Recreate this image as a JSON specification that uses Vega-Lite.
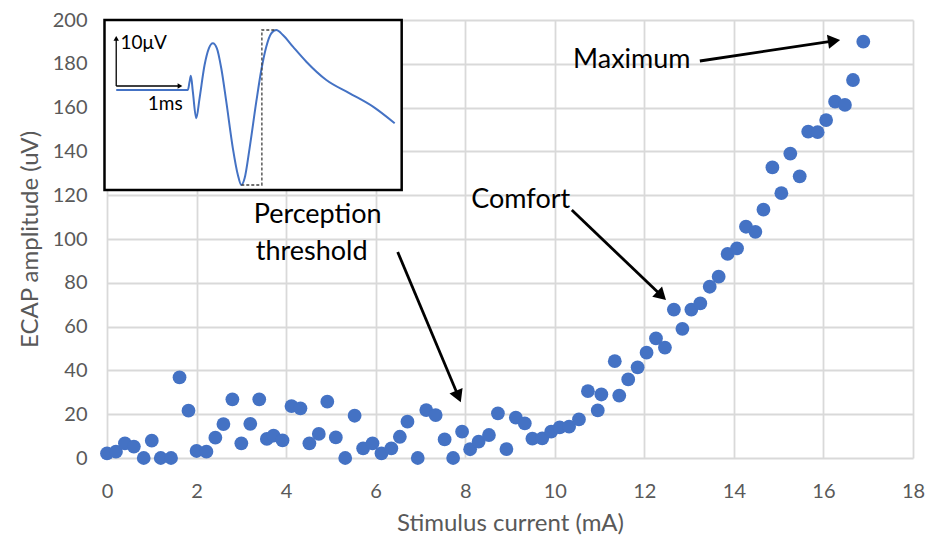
{
  "$schema": "https://vega.github.io/schema/vega-lite/v6.json",
  "width": 806,
  "height": 438,
  "autosize": "none",
  "padding": {"left": 107, "top": 20, "right": 17, "bottom": 85},
  "background": "white",
  "config": {"view": {"stroke": null}, "font": "Lato"},
  "encoding": {
    "x": {
      "field": "x", "type": "quantitative",
      "scale": {"domain": [0, 18], "nice": false, "zero": false},
      "axis": {
        "title": "Stimulus current (mA)", "values": [0, 2, 4, 6, 8, 10, 12, 14, 16, 18],
        "grid": true, "gridColor": "#d9d9d9", "gridWidth": 1.8, "domain": false, "ticks": false, "labelFlush": false,
        "labelFont": "Lato", "labelFontSize": 20, "labelColor": "#595959", "labelPadding": 23,
        "titleFont": "Lato", "titleFontSize": 24, "titleColor": "#595959", "titleFontWeight": "normal", "titlePadding": 10
      }
    },
    "y": {
      "field": "y", "type": "quantitative",
      "scale": {"domain": [0, 200], "nice": false, "zero": false},
      "axis": {
        "title": "ECAP amplitude (uV)", "values": [0, 20, 40, 60, 80, 100, 120, 140, 160, 180, 200],
        "grid": true, "gridColor": "#d9d9d9", "gridWidth": 1.8, "domain": false, "ticks": false, "labelFlush": false,
        "labelFont": "Lato", "labelFontSize": 20, "labelColor": "#595959", "labelPadding": 20,
        "titleFont": "Lato", "titleFontSize": 24, "titleColor": "#595959", "titleFontWeight": "normal", "titlePadding": 10
      }
    }
  },
  "layer": [
    {
      "data": {"values": [{"x": -0.056, "y": 200, "x2": 6.581, "y2": 122.4}]},
      "mark": {"type": "rect", "fill": "white", "stroke": "black", "strokeWidth": 2.5, "clip": false},
      "encoding": {"x2": {"field": "x2"}, "y2": {"field": "y2"}}
    },
    {
      "data": {"values": [
        {"x": 0.206, "y": 168.04}, {"x": 1.806, "y": 168.04}, {"x": 1.844, "y": 171.83}, {"x": 1.873, "y": 174.57},
        {"x": 1.917, "y": 167.26}, {"x": 1.993, "y": 155.11}, {"x": 2.067, "y": 164.25}, {"x": 2.179, "y": 179.45},
        {"x": 2.275, "y": 187.08}, {"x": 2.364, "y": 189.36}, {"x": 2.454, "y": 187.08}, {"x": 2.552, "y": 177.95},
        {"x": 2.664, "y": 162.69}, {"x": 2.811, "y": 141.42}, {"x": 2.923, "y": 129.22}, {"x": 2.999, "y": 124.66},
        {"x": 3.073, "y": 127.72}, {"x": 3.184, "y": 141.42}, {"x": 3.334, "y": 162.69}, {"x": 3.446, "y": 177.17},
        {"x": 3.557, "y": 187.81}, {"x": 3.669, "y": 193.93}, {"x": 3.781, "y": 195.43}, {"x": 3.928, "y": 193.15},
        {"x": 4.152, "y": 187.81}, {"x": 4.451, "y": 180.96}, {"x": 4.898, "y": 172.6}, {"x": 5.419, "y": 166.53},
        {"x": 5.94, "y": 160.41}, {"x": 6.425, "y": 152.83}
      ]},
      "mark": {"type": "line", "color": "#4472C4", "strokeWidth": 2, "interpolate": "monotone"},
      "encoding": {}
    },
    {
      "data": {"values": [
        {"x": 2.999, "y": 124.66, "i": 0}, {"x": 3.459, "y": 124.66, "i": 1},
        {"x": 3.459, "y": 195.43, "i": 2}, {"x": 3.781, "y": 195.43, "i": 3}
      ]},
      "mark": {"type": "line", "color": "#404040", "strokeWidth": 1.3, "strokeDash": [3, 2]},
      "encoding": {"order": {"field": "i", "type": "quantitative"}}
    },
    {
      "data": {"values": [
        {"x": 0.206, "y": 169.86, "x2": 0.206, "y2": 191.0},
        {"x": 0.206, "y": 169.86, "x2": 1.6, "y2": 169.86}
      ]},
      "mark": {"type": "rule", "color": "black", "strokeWidth": 1.3},
      "encoding": {"x2": {"field": "x2"}, "y2": {"field": "y2"}}
    },
    {
      "data": {"values": [{"x": 0.206, "y": 191.6}]},
      "mark": {"type": "point", "shape": "triangle-up", "filled": true, "color": "black", "opacity": 1, "size": 30, "angle": 0},
      "encoding": {}
    },
    {
      "data": {"values": [{"x": 1.63, "y": 169.86}]},
      "mark": {"type": "point", "shape": "triangle-up", "filled": true, "color": "black", "opacity": 1, "size": 30, "angle": 90},
      "encoding": {}
    },
    {
      "data": {"values": [
        {"x": 0.302, "y": 189.36, "label": "10μV"},
        {"x": 0.912, "y": 161.6, "label": "1ms"}
      ]},
      "mark": {"type": "text", "align": "left", "baseline": "middle", "fontSize": 19, "font": "Lato", "color": "black"},
      "encoding": {"text": {"field": "label"}}
    },
    {
      "data": {"values": [
        {"x": 0.0, "y": 2.1}, {"x": 0.2, "y": 2.9}, {"x": 0.4, "y": 6.7}, {"x": 0.6, "y": 5.2},
        {"x": 0.82, "y": 0}, {"x": 1.0, "y": 7.9}, {"x": 1.2, "y": 0}, {"x": 1.43, "y": 0},
        {"x": 1.62, "y": 36.8}, {"x": 1.82, "y": 21.6}, {"x": 2.0, "y": 3.2}, {"x": 2.22, "y": 2.9},
        {"x": 2.42, "y": 9.3}, {"x": 2.6, "y": 15.5}, {"x": 2.8, "y": 26.8}, {"x": 3.0, "y": 6.7},
        {"x": 3.2, "y": 15.6}, {"x": 3.4, "y": 26.8}, {"x": 3.57, "y": 8.7}, {"x": 3.72, "y": 10.2},
        {"x": 3.92, "y": 8}, {"x": 4.12, "y": 23.7}, {"x": 4.32, "y": 22.7}, {"x": 4.52, "y": 6.7},
        {"x": 4.73, "y": 11}, {"x": 4.92, "y": 25.7}, {"x": 5.11, "y": 9.4}, {"x": 5.32, "y": 0},
        {"x": 5.53, "y": 19.3}, {"x": 5.72, "y": 4.4}, {"x": 5.93, "y": 6.7}, {"x": 6.13, "y": 2.1},
        {"x": 6.35, "y": 4.4}, {"x": 6.54, "y": 9.7}, {"x": 6.71, "y": 16.6}, {"x": 6.94, "y": 0},
        {"x": 7.13, "y": 21.9}, {"x": 7.34, "y": 19.6}, {"x": 7.54, "y": 8.5}, {"x": 7.73, "y": 0},
        {"x": 7.93, "y": 12}, {"x": 8.11, "y": 4}, {"x": 8.3, "y": 7.5}, {"x": 8.53, "y": 10.5},
        {"x": 8.73, "y": 20.4}, {"x": 8.92, "y": 4.1}, {"x": 9.13, "y": 18.4}, {"x": 9.33, "y": 15.8},
        {"x": 9.5, "y": 8.8}, {"x": 9.72, "y": 9}, {"x": 9.92, "y": 12}, {"x": 10.11, "y": 14},
        {"x": 10.32, "y": 14.3}, {"x": 10.54, "y": 17.6}, {"x": 10.74, "y": 30.5}, {"x": 10.96, "y": 21.7},
        {"x": 11.04, "y": 29}, {"x": 11.34, "y": 44.2}, {"x": 11.44, "y": 28.5}, {"x": 11.64, "y": 35.9},
        {"x": 11.85, "y": 41.4}, {"x": 12.05, "y": 48.1}, {"x": 12.26, "y": 54.6}, {"x": 12.46, "y": 50.4},
        {"x": 12.66, "y": 67.8}, {"x": 12.85, "y": 59}, {"x": 13.05, "y": 67.8}, {"x": 13.25, "y": 70.6},
        {"x": 13.46, "y": 78.2}, {"x": 13.66, "y": 82.8}, {"x": 13.86, "y": 93.2}, {"x": 14.07, "y": 95.7},
        {"x": 14.27, "y": 105.6}, {"x": 14.48, "y": 103.3}, {"x": 14.66, "y": 113.4}, {"x": 14.86, "y": 132.7},
        {"x": 15.06, "y": 120.9}, {"x": 15.26, "y": 139}, {"x": 15.47, "y": 128.6}, {"x": 15.66, "y": 149},
        {"x": 15.87, "y": 148.8}, {"x": 16.06, "y": 154.3}, {"x": 16.26, "y": 162.7}, {"x": 16.48, "y": 161.2},
        {"x": 16.66, "y": 172.6}, {"x": 16.89, "y": 190.1}
      ]},
      "mark": {"type": "point", "filled": true, "color": "#4472C4", "opacity": 1, "size": 190},
      "encoding": {}
    },
    {
      "data": {"values": [
        {"name": "Maximum", "x": 13.24, "y": 181.28, "x2": 16.237, "y2": 190.46},
        {"name": "Comfort", "x": 10.38, "y": 113.24, "x2": 12.385, "y2": 74.06},
        {"name": "Perception", "x": 6.492, "y": 94.06, "x2": 7.848, "y2": 28.08}
      ]},
      "mark": {"type": "rule", "color": "black", "strokeWidth": 2.8},
      "encoding": {"x2": {"field": "x2"}, "y2": {"field": "y2"}}
    },
    {
      "data": {"values": [{"x": 16.237, "y": 190.46}]},
      "mark": {"type": "point", "shape": "triangle-up", "filled": true, "color": "black", "opacity": 1, "size": 200, "angle": 81.5},
      "encoding": {}
    },
    {
      "data": {"values": [{"x": 12.385, "y": 74.06}]},
      "mark": {"type": "point", "shape": "triangle-up", "filled": true, "color": "black", "opacity": 1, "size": 200, "angle": 133.8},
      "encoding": {}
    },
    {
      "data": {"values": [{"x": 7.848, "y": 28.08}]},
      "mark": {"type": "point", "shape": "triangle-up", "filled": true, "color": "black", "opacity": 1, "size": 200, "angle": 157.2},
      "encoding": {}
    },
    {
      "data": {"values": [
        {"x": 11.72, "y": 181.7, "label": "Maximum"},
        {"x": 9.24, "y": 117.8, "label": "Comfort"},
        {"x": 4.704, "y": 110.96, "label": "Perception"},
        {"x": 4.57, "y": 94.06, "label": "threshold"}
      ]},
      "mark": {"type": "text", "align": "center", "baseline": "middle", "fontSize": 27, "font": "Lato", "color": "black"},
      "encoding": {"text": {"field": "label"}}
    }
  ]
}
